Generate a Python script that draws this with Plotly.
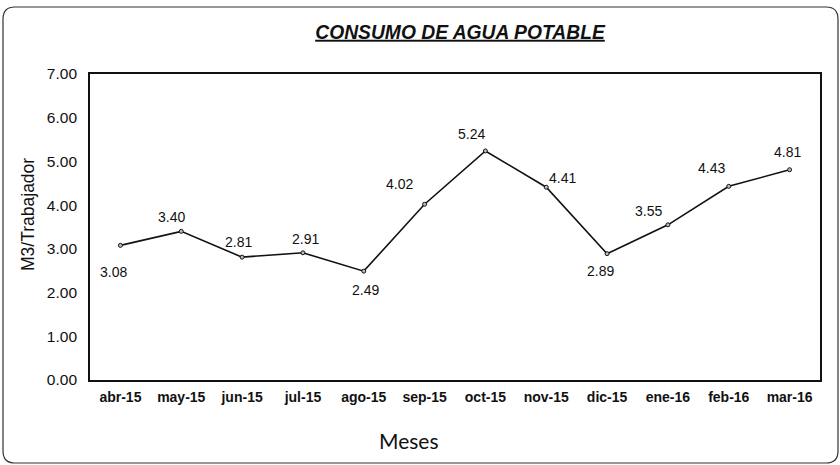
import plotly.graph_objects as go

months = ["abr-15", "may-15", "jun-15", "jul-15", "ago-15", "sep-15",
          "oct-15", "nov-15", "dic-15", "ene-16", "feb-16", "mar-16"]
consumo = [3.08, 3.40, 2.81, 2.91, 2.49, 4.02, 5.24, 4.41, 2.89, 3.55, 4.43, 4.81]
y_ticks = [0, 1, 2, 3, 4, 5, 6, 7]

# label offsets (px) for data labels
label_dx = [-7, -10, -4, 3, 2, -25, -14, 16, -7, -19, -17, -2]
label_dy = [-27, 14, 15, 14, -19, 20, 17, 9, -17, 14, 18, 18]

L, R, T, B = 90, 20, 74, 85
W, H = 840, 465
pw, ph = W - L - R, H - T - B

fig = go.Figure()
fig.add_trace(go.Scatter(
    x=months, y=consumo, mode="lines+markers",
    line=dict(color="#111", width=1.6),
    marker=dict(size=4, color="#bbb", line=dict(color="#111", width=1)),
    hoverinfo="x+y", showlegend=False,
))

for m, v, dx, dy in zip(months, consumo, label_dx, label_dy):
    fig.add_annotation(x=m, y=v, text=f"{v:.2f}", showarrow=False,
                       xshift=dx, yshift=dy,
                       font=dict(family="Liberation Sans, Arial", size=14, color="#111"))

fig.update_layout(
    width=W, height=H,
    paper_bgcolor="white", plot_bgcolor="white",
    margin=dict(l=L, r=R, t=T, b=B, autoexpand=False),
    title=dict(text="<u><b><i>CONSUMO DE AGUA POTABLE</i></b></u>",
               x=460 / W, xanchor="center", y=1 - 32 / H, yanchor="middle",
               font=dict(family="Liberation Sans, Arial", size=19.3, color="#111")),
    xaxis=dict(type="category", range=[-0.5, 11.5], automargin=False,
               showline=True, linecolor="#111", linewidth=1.8, mirror=True,
               showgrid=False, ticks="", ticklabelstandoff=3,
               tickfont=dict(family="Liberation Sans, Arial", size=14, color="#111", weight="bold"),
               title=dict(text="")),
    yaxis=dict(range=[0, 7], tickvals=y_ticks, ticktext=[f"{t:.2f}" for t in y_ticks],
               automargin=False,
               showline=True, linecolor="#111", linewidth=1.8, mirror=True,
               showgrid=False, zeroline=False, ticks="", ticklabelstandoff=8,
               tickfont=dict(family="Liberation Sans, Arial", size=15.5, color="#111"),
               title=dict(text="")),
)

# axis titles as annotations (paper coords relative to plot area)
fig.add_annotation(xref="paper", yref="paper", x=(409 - L) / pw, y=(H - B - 440) / ph,
                   text="Meses", showarrow=False, xanchor="center", yanchor="middle",
                   font=dict(family="Lato, Open Sans", size=21, color="#111"))
fig.add_annotation(xref="paper", yref="paper", x=(28 - L) / pw, y=(H - B - 215) / ph,
                   text="M3/Trabajador", showarrow=False, textangle=-90,
                   xanchor="center", yanchor="middle",
                   font=dict(family="Liberation Sans, Arial", size=17.5, color="#111"))

# rounded outer border (paper coords are relative to the plot area)
def px_x(p):
    return (p - L) / pw

def px_y(p):
    return (H - B - p) / ph

x0, x1 = px_x(3), px_x(838)
y0, y1 = px_y(463), px_y(7)
rx, ry = 12 / pw, 12 / ph
path = (f"M {x0+rx},{y1} L {x1-rx},{y1} Q {x1},{y1} {x1},{y1-ry} "
        f"L {x1},{y0+ry} Q {x1},{y0} {x1-rx},{y0} L {x0+rx},{y0} "
        f"Q {x0},{y0} {x0},{y0+ry} L {x0},{y1-ry} Q {x0},{y1} {x0+rx},{y1} Z")
fig.add_shape(type="path", xref="paper", yref="paper", path=path,
              line=dict(color="#333", width=1.2))

fig.write_html("out.html", config={"displayModeBar": False},
               post_script="document.body.style.margin='0';document.body.style.overflow='hidden';")
